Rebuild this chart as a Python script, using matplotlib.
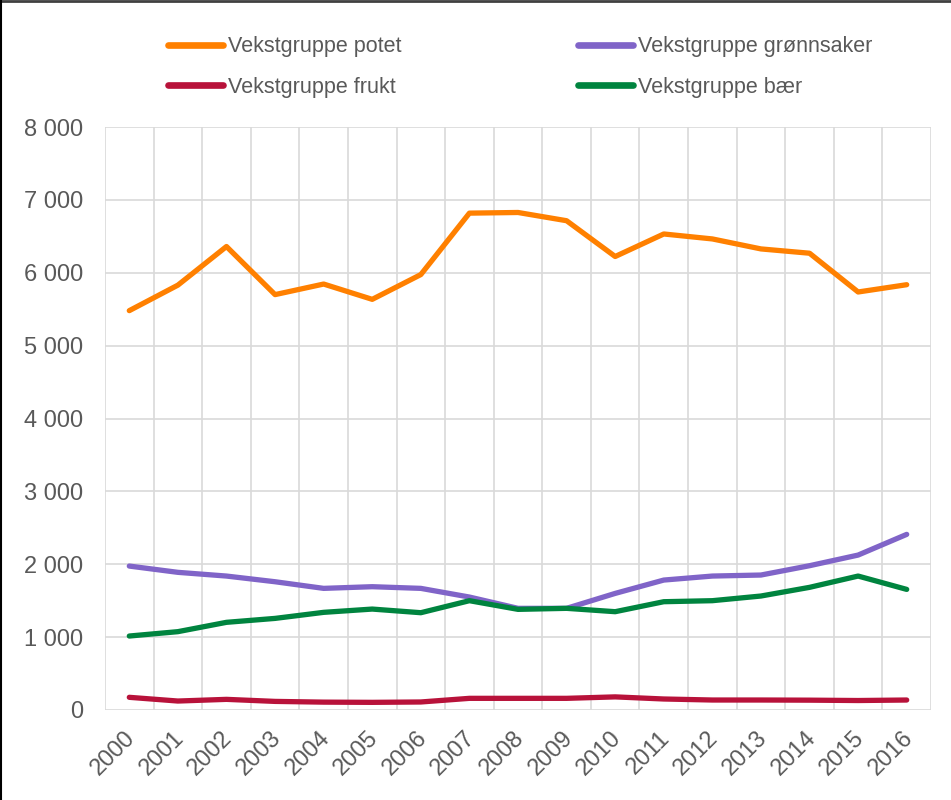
import matplotlib
matplotlib.use("Agg")
import matplotlib.pyplot as plt
from matplotlib.lines import Line2D
from matplotlib.ticker import FuncFormatter, MultipleLocator
import matplotlib.transforms as mtransforms

plt.rcParams['font.family'] = ['Liberation Sans', 'DejaVu Sans']

years = [str(y) for y in range(2000, 2017)]
potet = [5480, 5830, 6360, 5700, 5845, 5635, 5975, 6818, 6827, 6714,
         6223, 6532, 6464, 6327, 6268, 5736, 5836]
gronnsaker = [1975, 1889, 1838, 1760, 1669, 1692, 1669, 1550, 1395, 1395,
              1600, 1783, 1838, 1852, 1980, 2126, 2410]
frukt = [174, 123, 146, 118, 108, 105, 110, 160, 160, 160,
         180, 151, 137, 137, 135, 130, 137]
baer = [1015, 1075, 1203, 1257, 1340, 1385, 1335, 1500, 1381, 1395,
        1349, 1486, 1500, 1564, 1683, 1838, 1655]

labels = ["Vekstgruppe potet", "Vekstgruppe grønnsaker",
          "Vekstgruppe frukt", "Vekstgruppe bær"]
colors = ["#FF8000", "#8064C8", "#B8123A", "#00843F"]
series = [potet, gronnsaker, frukt, baer]

W, H = 951, 800
fig = plt.figure(figsize=(W / 100, H / 100), dpi=100)
ax = fig.add_axes([105 / W, 1 - 710 / H, (931 - 105) / W, (710 - 127) / H])

x = list(range(len(years)))
lines = []
for s, c, l in zip(series, colors, labels):
    ln, = ax.plot(x, s, color=c, lw=3.8, solid_capstyle='round',
                  solid_joinstyle='round', label=l, zorder=3)
    lines.append(ln)

ax.set_xlim(-0.5, len(years) - 0.5)
ax.set_ylim(0, 8000)
ax.yaxis.set_major_locator(MultipleLocator(1000))
ax.yaxis.set_major_formatter(FuncFormatter(lambda v, p: f"{int(v):,}".replace(",", " ")))

grid_c = "#D9D9D9"
for yv in range(0, 8001, 1000):
    ax.axhline(yv, color=grid_c, lw=1.2, zorder=1)
for i in range(len(years) + 1):
    ax.axvline(i - 0.5, color=grid_c, lw=1.2, zorder=1)
for sp in ax.spines.values():
    sp.set_visible(False)

ax.set_xticks(x)
ax.set_xticklabels(years)
ax.tick_params(axis='both', length=0, colors="#595959")
ax.tick_params(axis='y', labelsize=17, pad=15.7)
ax.tick_params(axis='x', labelsize=17, pad=18)
offset = mtransforms.ScaledTranslation(2 / 72, 0, fig.dpi_scale_trans)
for t in ax.get_xticklabels():
    t.set_rotation(45)
    t.set_rotation_mode('anchor')
    t.set_ha('right')
    t.set_va('center')
    t.set_transform(t.get_transform() + offset)

# column-major order so rows read: potet | grønnsaker, frukt | bær
order = [0, 2, 1, 3]
leg = fig.legend(handles=[lines[i] for i in order],
                 labels=[labels[i] for i in order], ncol=2, loc='upper left',
                 bbox_to_anchor=(149 / W, 1 - 17 / H), frameon=False,
                 fontsize=15.5, handlelength=2.55, handletextpad=0.23,
                 columnspacing=8.2, labelspacing=0.9,
                 labelcolor="#595959")
for h in leg.legend_handles:
    h.set_linewidth(4.8)
    h.set_solid_capstyle('round')

# figure edge borders (top and left)
fig.add_artist(Line2D([0, 1], [1 - 1 / H, 1 - 1 / H], transform=fig.transFigure,
                      color="#404040", lw=2))
fig.add_artist(Line2D([0.5 / W, 0.5 / W], [0, 1], transform=fig.transFigure,
                      color="#000000", lw=1.5))

fig.savefig("out.png", dpi=100, facecolor="white")
